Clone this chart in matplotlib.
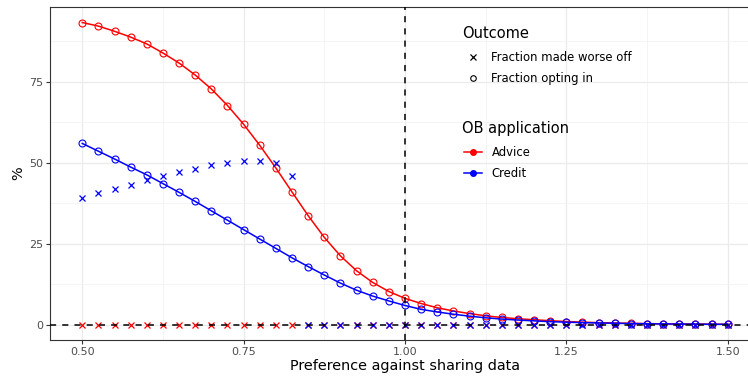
import matplotlib
matplotlib.use("Agg")
import matplotlib.pyplot as plt
from matplotlib.lines import Line2D
from matplotlib.ticker import MultipleLocator

# preference grid
pref = [0.500, 0.525, 0.550, 0.575, 0.600, 0.625, 0.650, 0.675, 0.700, 0.725,
        0.750, 0.775, 0.800, 0.825, 0.850, 0.875, 0.900, 0.925, 0.950, 0.975,
        1.000, 1.025, 1.050, 1.075, 1.100, 1.125, 1.150, 1.175, 1.200, 1.225,
        1.250, 1.275, 1.300, 1.325, 1.350, 1.375, 1.400, 1.425, 1.450, 1.475,
        1.500]

advice_optin = [93.2, 92.1, 90.5, 88.7, 86.6, 83.8, 80.7, 77.0, 72.7, 67.6,
                61.8, 55.3, 48.3, 40.9, 33.6, 26.9, 21.2, 16.6, 13.0, 10.2,
                8.1, 6.5, 5.2, 4.2, 3.4, 2.7, 2.2, 1.8, 1.5, 1.2,
                0.95, 0.75, 0.6, 0.5, 0.4, 0.3, 0.25, 0.2, 0.16, 0.13,
                0.1]
advice_worse = [0.0] * 41

credit_optin = [55.9, 53.5, 51.1, 48.6, 46.2, 43.5, 40.8, 38.0, 35.1, 32.2,
                29.3, 26.4, 23.5, 20.6, 17.9, 15.3, 12.8, 10.6, 8.8, 7.3,
                5.9, 4.7, 3.9, 3.2, 2.6, 2.1, 1.7, 1.4, 1.15, 0.9,
                0.75, 0.6, 0.5, 0.4, 0.32, 0.26, 0.2, 0.16, 0.13, 0.1,
                0.08]
credit_worse = [39.2, 40.5, 41.8, 43.2, 44.5, 45.9, 47.1, 47.9, 49.2, 49.8,
                50.4, 50.4, 49.8, 45.8] + [0.0] * 27

apps = ["Advice", "Credit"]
app_colors = {"Advice": "#FF0000", "Credit": "#0000FF"}
series = {"Advice": (advice_optin, advice_worse),
          "Credit": (credit_optin, credit_worse)}

plt.rcParams["font.family"] = ["DejaVu Sans"]

W, H = 748, 377
fig = plt.figure(figsize=(W / 100, H / 100), dpi=100)
ax = fig.add_axes([50 / W, 37.3 / H, 710 / W, 332.4 / H])

for app in apps:
    optin, worse = series[app]
    c = app_colors[app]
    ax.plot(pref, optin, color=c, lw=1.1, zorder=3)
    ax.plot(pref, optin, ls="none", marker="o", ms=5, mfc="none", mec=c,
            mew=0.8, zorder=3)
    ax.plot(pref, worse, ls="none", marker="x", ms=5, color=c, mew=0.9,
            zorder=3)

ax.axhline(0, color="black", lw=1.1, ls=(0, (4, 4)), zorder=4)
ax.axvline(1.0, color="black", lw=1.1, ls=(0, (4, 4)), zorder=4)

ax.set_xlim(0.45, 1.55)
ax.set_ylim(-4.66, 97.9)
ax.xaxis.set_minor_locator(MultipleLocator(0.125))
ax.yaxis.set_minor_locator(MultipleLocator(12.5))
ax.set_xticks([0.5, 0.75, 1.0, 1.25, 1.5])
ax.set_xticklabels(["0.50", "0.75", "1.00", "1.25", "1.50"])
ax.set_yticks([0, 25, 50, 75])
ax.grid(which="major", color="#EBEBEB", lw=0.9)
ax.grid(which="minor", color="#F2F2F2", lw=0.5)
ax.set_axisbelow(True)
ax.tick_params(which="major", length=3, width=0.8, color="#333333",
               labelsize=8, labelcolor="#4D4D4D", pad=2)
ax.tick_params(which="minor", length=0)
for s in ax.spines.values():
    s.set_color("#333333")
    s.set_linewidth(0.8)
ax.set_xlabel("Preference against sharing data", fontsize=10.4, labelpad=2)
ax.set_ylabel("%", fontsize=10.4, labelpad=3)

# legends: titles drawn as text, keys as frameless legends
leg_kw = dict(loc="upper left", frameon=False, fontsize=8.4,
              handlelength=1.5, handletextpad=0.85, labelspacing=0.68,
              borderpad=0, borderaxespad=0)

fig.text(462 / W, 1 - 33 / H, "Outcome", fontsize=10.5, va="center")
outcome_handles = [
    Line2D([], [], ls="none", marker="x", ms=5, color="black", mew=0.9),
    Line2D([], [], ls="none", marker="o", ms=4, mfc="none", mec="black", mew=0.8),
]
leg1 = fig.legend(outcome_handles, ["Fraction made worse off", "Fraction opting in"],
                  bbox_to_anchor=(464 / W, 1 - 51 / H), **leg_kw)

fig.text(462 / W, 1 - 129 / H, "OB application", fontsize=10.5, va="center")
app_handles = [Line2D([], [], color=app_colors[a], lw=1.1, marker="o", ms=4)
               for a in apps]
leg2 = fig.legend(app_handles, apps,
                  bbox_to_anchor=(464 / W, 1 - 146 / H), **leg_kw)

fig.savefig("out.png", dpi=100)
